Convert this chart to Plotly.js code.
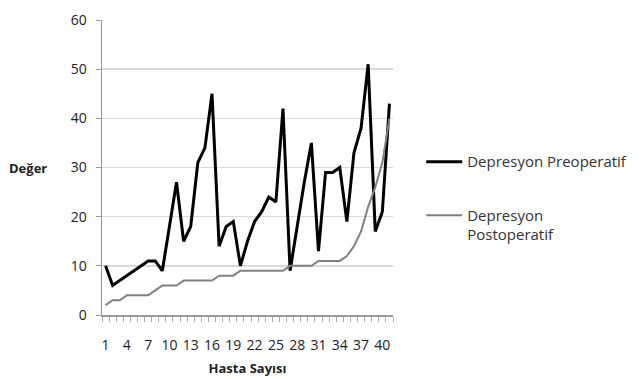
<!DOCTYPE html>
<html>
<head>
<meta charset="utf-8">
<script src="https://cdn.plot.ly/plotly-3.0.1.min.js"></script>
<style>
  html, body { margin: 0; padding: 0; background: #fff; }
  #chart { width: 644px; height: 379px; }
</style>
</head>
<body>
<div id="chart"></div>
<script>
// Patient numbers (x categories)
const patients = [1,2,3,4,5,6,7,8,9,10,11,12,13,14,15,16,17,18,19,20,
                  21,22,23,24,25,26,27,28,29,30,31,32,33,34,35,36,37,38,39,40,41];

// Depression scores before surgery
const preoperatif = [10,6,7,8,9,10,11,11,9,18,27,15,18,31,34,45,14,18,19,10,
                     15,19,21,24,23,42,9,18,27,35,13,29,29,30,19,33,38,51,17,21,43];

// Depression scores after surgery
const postoperatif = [2,3,3,4,4,4,4,5,6,6,6,7,7,7,7,7,8,8,8,9,
                      9,9,9,9,9,9,10,10,10,10,11,11,11,11,12,14,17,22,26,31,40];

// Labelled patient numbers on the x axis
const xTickLabels = [1,4,7,10,13,16,19,22,25,28,31,34,37,40];

const font = "'Open Sans', 'DejaVu Sans', sans-serif";

const traces = [
  {
    x: patients, y: preoperatif, type: 'scatter', mode: 'lines',
    name: 'Depresyon Preoperatif',
    line: { color: '#000000', width: 3 },
    legendgroup: 'a'
  },
  {
    x: patients, y: postoperatif, type: 'scatter', mode: 'lines',
    name: 'Depresyon<br>Postoperatif',
    line: { color: '#808080', width: 2 },
    legendgroup: 'b'
  }
];

const layout = {
  width: 644, height: 379,
  margin: { l: 102, r: 249, t: 20, b: 64 },
  paper_bgcolor: '#ffffff', plot_bgcolor: '#ffffff',
  font: { family: font, size: 13, color: '#222' },
  showlegend: true,
  legend: {
    x: 1.097, xanchor: 'left', y: 0.575, yanchor: 'top',
    font: { family: font, size: 15, color: '#333' },
    traceorder: 'grouped', tracegroupgap: 31, valign: 'top',
    itemwidth: 36
  },
  xaxis: {
    range: [0.5, 41.5],
    tickmode: 'array', tickvals: xTickLabels, ticktext: xTickLabels.map(String),
    ticks: 'outside', ticklen: 5, tickcolor: 'rgba(0,0,0,0)',
    minor: { tickmode: 'linear', tick0: 0.5, dtick: 1, ticks: 'outside', ticklen: 5, tickcolor: '#aaa', tickwidth: 1, showgrid: false },
    showgrid: false, zeroline: false,
    showline: true, linecolor: '#999', linewidth: 1.5,
    tickfont: { family: font, size: 14, color: '#222' },
    ticklabelstandoff: 12,
    title: { text: '<b>Hasta Sayısı</b>', font: { family: font, size: 13, color: '#222' }, standoff: 10 }
  },
  yaxis: {
    range: [0, 60], dtick: 10,
    ticks: 'outside', ticklen: 5, tickcolor: '#999',
    showgrid: true, gridcolor: '#d9d9d9', gridwidth: 1.5,
    zeroline: false, showline: true, linecolor: '#999', linewidth: 1.5,
    tickfont: { family: font, size: 14, color: '#222' },
    ticklabelstandoff: 6
  },
  annotations: [
    {
      text: '<b>Değer</b>', xref: 'paper', yref: 'paper',
      x: -0.255, y: 0.5, xanchor: 'center', yanchor: 'middle',
      showarrow: false, font: { family: font, size: 13, color: '#222' }
    }
  ]
};

Plotly.newPlot('chart', traces, layout, { displayModeBar: false, staticPlot: true });
</script>
</body>
</html>
